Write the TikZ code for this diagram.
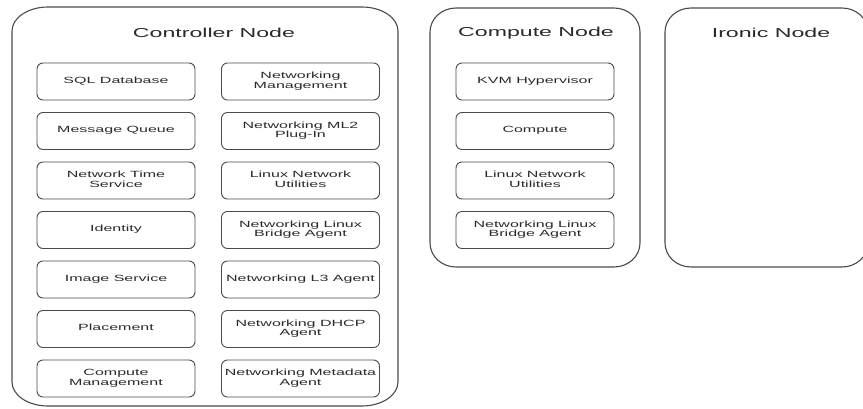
\documentclass[tikz,border=0pt]{standalone}
\usepackage{fontspec}
\setmainfont{Liberation Sans}
\usepackage{graphicx}
\definecolor{boxgray}{HTML}{4A4A4A}
\definecolor{txtgray}{HTML}{2A2A2A}
\newcommand\stx[1]{\scalebox{1.78}[1]{\begin{tabular}{@{}c@{}}#1\end{tabular}}}
\tikzset{
 inbox/.style={draw=boxgray, line width=0.9pt, rounded corners=6pt, minimum width=158pt, minimum height=37pt, inner sep=0pt, text=txtgray, font=\fontsize{9}{9.3}\selectfont},
 titletext/.style={text=txtgray, font=\fontsize{13}{15}\selectfont, inner sep=0pt},
 outer/.style={draw=boxgray, line width=1.1pt}
}
\begin{document}
\begin{tikzpicture}[x=1pt,y=1pt]
\useasboundingbox (0,0) rectangle (863,408);
\clip (0,0) rectangle (863,408);
% Controller container
\draw[outer] (48,401) -- (362,401) arc[start angle=90,end angle=0,x radius=36,y radius=24] -- (398,26) arc[start angle=0,end angle=-90,x radius=36,y radius=24] -- (48,2) arc[start angle=270,end angle=180,x radius=36,y radius=24] -- (12,377) arc[start angle=180,end angle=90,x radius=36,y radius=24] -- cycle;
% Compute container
\draw[outer] (456,400) -- (614,400) arc[start angle=90,end angle=0,x radius=26,y radius=24] -- (640,165) arc[start angle=0,end angle=-90,x radius=26,y radius=24] -- (456,141) arc[start angle=270,end angle=180,x radius=26,y radius=24] -- (430,376) arc[start angle=180,end angle=90,x radius=26,y radius=24] -- cycle;
% Ironic container
\draw[outer] (691,400) -- (842,400) arc[start angle=90,end angle=0,x radius=26,y radius=24] -- (868,165) arc[start angle=0,end angle=-90,x radius=26,y radius=24] -- (691,141) arc[start angle=270,end angle=180,x radius=26,y radius=24] -- (665,376) arc[start angle=180,end angle=90,x radius=26,y radius=24] -- cycle;

\node[titletext] (tctl) at (214,375) {\scalebox{1.78}[1]{Controller Node}};
\node[titletext] (tcmp) at (536,375) {\scalebox{1.78}[1]{Compute Node}};
\node[titletext] (tirn) at (771,375) {\scalebox{1.78}[1]{Ironic Node}};

% Controller left column
\node[inbox] (sql) at (116,326.5) {\stx{SQL Database}};
\node[inbox] (mq)  at (116,277) {\stx{Message Queue}};
\node[inbox] (nts) at (116,227.5) {\stx{Network Time\\Service}};
\node[inbox] (idn) at (116,178) {\stx{Identity}};
\node[inbox] (img) at (116,128.5) {\stx{Image Service}};
\node[inbox] (plc) at (116,79) {\stx{Placement}};
\node[inbox] (cmg) at (116,29.5) {\stx{Compute\\Management}};
% Controller right column
\node[inbox] (nmg) at (300.5,326.5) {\stx{Networking\\Management}};
\node[inbox] (ml2) at (300.5,277) {\stx{Networking ML2\\Plug-In}};
\node[inbox] (lnu) at (300.5,227.5) {\stx{Linux Network\\Utilities}};
\node[inbox] (lba) at (300.5,178) {\stx{Networking Linux\\Bridge Agent}};
\node[inbox] (l3a) at (300.5,128.5) {\stx{Networking L3 Agent}};
\node[inbox] (dhc) at (300.5,79) {\stx{Networking DHCP\\Agent}};
\node[inbox] (mda) at (300.5,29.5) {\stx{Networking Metadata\\Agent}};
% Compute column
\node[inbox] (kvm)  at (535,326.5) {\stx{KVM Hypervisor}};
\node[inbox] (cmp)  at (535,277) {\stx{Compute}};
\node[inbox] (clnu) at (535,227.5) {\stx{Linux Network\\Utilities}};
\node[inbox] (clba) at (535,178) {\stx{Networking Linux\\Bridge Agent}};
\end{tikzpicture}
\end{document}
